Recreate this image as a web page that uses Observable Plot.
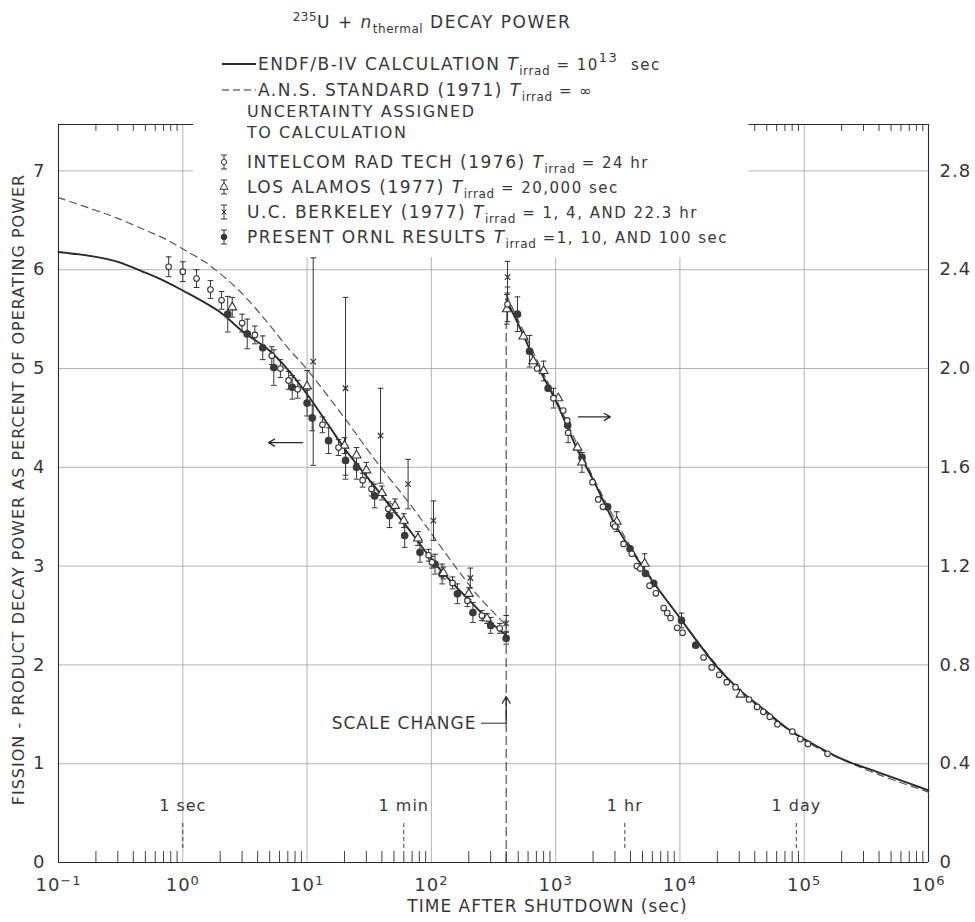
<!DOCTYPE html>
<html><head><meta charset="utf-8">
<script src="https://cdn.jsdelivr.net/npm/d3@7"></script>
<script src="https://cdn.jsdelivr.net/npm/@observablehq/plot@0.6"></script>
<style>
html,body{margin:0;padding:0;background:#fff;}
#chart svg{display:block;}
</style></head><body><div id="chart"></div>
<script>
// ---------- axes / labels ----------
const decadeTicks = [1e-1, 1e0, 1e1, 1e2, 1e3, 1e4, 1e5, 1e6];
const decadeExponents = ["−1", "0", "1", "2", "3", "4", "5", "6"];
const leftTicks = [0, 1, 2, 3, 4, 5, 6, 7];
const rightTickLabels = ["0", "0.4", "0.8", "1.2", "1.6", "2.0", "2.4", "2.8"];
const timeMarks = [1, 60, 3600, 86400];
const timeMarkLabels = ["1 sec", "1 min", "1 hr", "1 day"];
const yTitle = "FISSION - PRODUCT DECAY POWER AS PERCENT OF OPERATING POWER";
const xTitle = "TIME AFTER SHUTDOWN (sec)";
const scaleChangeTime = 400;      // sec
const rightScaleFactor = 0.4;     // right-axis percent per left-axis unit
const legendLabels = ["INTELCOM RAD TECH (1976)", "LOS ALAMOS (1977)", "U.C. BERKELEY (1977)", "PRESENT ORNL RESULTS"];
const legendTirrad = ["= 24 hr", "= 20,000 sec", "= 1, 4, AND 22.3 hr", "=1, 10, AND 100 sec"];

// ---------- curves: [time (s), decay power (%)] ----------
const endfLeft = [[0.1,6.18],[0.2,6.13],[0.3,6.08],[0.5,5.97],[0.7,5.89],[1,5.79],[2,5.57],[3,5.38],[5,5.18],[7,4.99],[10,4.74],[15,4.42],[20,4.19],[30,3.91],[50,3.56],[70,3.33],[100,3.07],[150,2.82],[200,2.66],[300,2.43],[400,2.30]];
const endfRight = [[400,2.28],[500,2.18],[700,2.02],[1000,1.87],[1500,1.67],[2000,1.55],[3000,1.37],[4000,1.27],[6000,1.14],[10000,0.99],[15000,0.87],[20000,0.79],[30000,0.70],[50000,0.61],[70000,0.55],[100000,0.50],[200000,0.42],[400000,0.364],[700000,0.32],[1000000,0.292]];
const ansLeft = [[0.1,6.73],[0.2,6.60],[0.3,6.52],[0.5,6.40],[0.7,6.32],[1,6.21],[1.5,6.08],[2,5.96],[3,5.76],[5,5.44],[7,5.21],[10,4.99],[20,4.50],[35,4.08],[70,3.60],[125,3.16],[230,2.72],[400,2.40]];
const ansRight = [[400,2.30],[700,2.04],[1000,1.88],[2000,1.56],[4000,1.28],[10000,0.99],[30000,0.70],[100000,0.495],[300000,0.38],[1000000,0.285]];

// ---------- measurements: [time (s), decay power (%), uncertainty (%)] ----------
const intelcomLeft = [[0.77,6.03,0.10],[1.0,5.98,0.10],[1.29,5.91,0.09],[1.67,5.80,0.09],[2.05,5.69,0.09],[3.0,5.46,0.09],[3.8,5.34,0.09],[5.2,5.13,0.09],[6.1,5.00,0.09],[7.1,4.88,0.09],[8.4,4.79,0.09],[13.3,4.43,0.08],[17.9,4.20,0.08],[28,3.87,0.07],[33,3.78,0.07],[45,3.58,0.07],[95,3.11,0.06],[101,3.04,0.06],[148,2.83,0.06],[195,2.65,0.06],[255,2.50,0.05],[355,2.37,0.05]];
const intelcomRight = [[410,2.26,0.07],[710,2.00,0],[960,1.88,0.04],[1150,1.83,0],[1240,1.79,0],[1260,1.74,0.04],[1980,1.54,0],[2200,1.47,0],[2400,1.44,0],[2900,1.37,0],[3000,1.36,0],[3520,1.29,0],[4100,1.25,0],[4500,1.20,0],[4800,1.19,0],[5700,1.12,0],[6400,1.09,0],[7400,1.03,0],[7900,1.01,0],[8400,0.99,0],[9500,0.95,0],[10500,0.93,0],[15500,0.83,0],[18000,0.79,0],[20700,0.76,0],[23800,0.73,0],[28000,0.71,0],[36000,0.66,0],[41800,0.63,0],[46800,0.61,0],[52800,0.59,0],[60800,0.56,0],[80300,0.53,0],[93000,0.50,0],[107000,0.48,0],[154000,0.44,0]];
const losAlamosLeft = [[2.5,5.62,0.10],[10,4.82,0.16],[20,4.22,0.08],[25,4.12,0.08],[30,3.97,0.08],[40,3.74,0.07],[51,3.61,0.07],[60,3.46,0.07],[78,3.28,0.07],[125,2.93,0.06],[200,2.72,0.06],[280,2.47,0.05]];
const losAlamosRight = [[405,2.24,0.06],[550,2.13,0],[660,2.03,0],[800,1.99,0.04],[1050,1.88,0],[1500,1.68,0],[1630,1.62,0.04],[3100,1.38,0.04],[5200,1.21,0.04],[30800,0.68,0]];
const berkeleyLeft = [[11.2,5.07,1.05],[20.4,4.80,0.92],[39,4.32,0.48],[65,3.83,0.25],[104,3.46,0.20],[206,2.88,0.10],[400,2.42,0.08]];
const berkeleyRight = [[410,2.37,0.064]];
const ornlLeft = [[2.3,5.55,0.18],[3.3,5.35,0.15],[4.4,5.21,0.12],[5.4,5.01,0.18],[7.6,4.81,0.12],[10,4.65,0.13],[11,4.50,0.13],[14.9,4.27,0.13],[20.4,4.07,0.15],[25,4.00,0.12],[35,3.71,0.12],[46,3.51,0.12],[61,3.31,0.12],[81,3.14,0.10],[107,3.02,0.10],[122,2.92,0.10],[162,2.72,0.10],[216,2.53,0.10],[300,2.40,0.08],[400,2.27,0.06]];
const ornlRight = [[493,2.22,0.07],[617,2.07,0.064],[870,1.92,0],[1250,1.77,0],[1630,1.64,0],[2620,1.44,0],[3970,1.27,0],[5300,1.17,0],[6150,1.13,0],[10300,0.98,0.03],[13400,0.88,0]];

// ---------- layout / style ----------
const W = 975, H = 922;
const M = {top: 124, right: 47, bottom: 60, left: 58};
const plotH = H - M.top - M.bottom;
const yTop = 7.47;
const legendBoxX = [1.22, 3.6e4];
const legendBoxY = 6.12;
const FONT = "DejaVu Sans";
const TEXT = "#383838";
const INK = "#2a2a2a";
const GRID = "#a9a9a9";

// plotted value in left-axis units
const toY = (P, side) => side === "R" ? P / rightScaleFactor : P;
const curveRows = (arr, side) => arr.map(([t, P]) => ({t, y: toY(P, side), side}));
const pointRows = (arr, side) => arr.map(([t, P, e]) => ({t, y: toY(P, side), ey: toY(e || 0, side), side}));

const endfRows = [...curveRows(endfLeft, "L"), ...curveRows(endfRight, "R")];
const ansRows = [...curveRows(ansLeft, "L"), ...curveRows(ansRight, "R")];
const intelcom = [...pointRows(intelcomLeft, "L"), ...pointRows(intelcomRight, "R")];
const losAlamos = [...pointRows(losAlamosLeft, "L"), ...pointRows(losAlamosRight, "R")];
const berkeley = [...pointRows(berkeleyLeft, "L"), ...pointRows(berkeleyRight, "R")];
const ornl = [...pointRows(ornlLeft, "L"), ...pointRows(ornlRight, "R")];
const allPoints = [...intelcom, ...losAlamos, ...berkeley, ...ornl].filter(d => d.ey > 0);

const minorTicks = [];
for (let k = -1; k < 6; ++k) for (let m = 2; m <= 9; ++m) minorTicks.push(m * Math.pow(10, k));

const capSymbol = {draw(ctx, size) { const w = Math.sqrt(size) / 2; ctx.moveTo(-w, 0); ctx.lineTo(w, 0); }};

const chart = Plot.plot({
  width: W, height: H,
  marginTop: M.top, marginRight: M.right, marginBottom: M.bottom, marginLeft: M.left,
  style: {fontFamily: FONT, fontSize: "17px", color: TEXT, background: "white", letterSpacing: "1px"},
  x: {type: "log", domain: [decadeTicks[0], decadeTicks[decadeTicks.length - 1]]},
  y: {domain: [0, yTop]},
  marks: [
    // grid
    Plot.ruleX(decadeTicks.slice(1, -1), {stroke: GRID, strokeWidth: 0.9}),
    Plot.ruleY(leftTicks.slice(1), {stroke: GRID, strokeWidth: 0.9}),
    Plot.rect([0], {x1: legendBoxX[0], x2: legendBoxX[1], y1: legendBoxY, y2: yTop, fill: "white"}),
    // frame
    Plot.ruleX([decadeTicks[0], decadeTicks[7]], {stroke: INK, strokeWidth: 1.1}),
    Plot.ruleY([0], {stroke: INK, strokeWidth: 1.1}),
    Plot.ruleY([yTop], {x1: decadeTicks[0], x2: legendBoxX[0], stroke: INK, strokeWidth: 1}),
    Plot.ruleY([yTop], {x1: legendBoxX[1], x2: decadeTicks[7], stroke: INK, strokeWidth: 1}),
    Plot.tickX(minorTicks, {insetTop: plotH - 11, stroke: INK, strokeWidth: 0.9}),
    Plot.tickX(minorTicks.filter(t => t < legendBoxX[0] || t > legendBoxX[1]), {insetBottom: plotH - 7, stroke: INK, strokeWidth: 0.9}),
    // axes
    Plot.axisX(decadeTicks, {tickSize: 0, tickPadding: 16, fontSize: 18, label: null, tickFormat: d => decadeExponents[decadeTicks.indexOf(d)]}),
    Plot.axisY(leftTicks, {anchor: "left", tickSize: 0, tickPadding: 13, fontSize: 18, label: null, tickFormat: d => String(d)}),
    Plot.axisY(leftTicks, {anchor: "right", tickSize: 0, tickPadding: 11, fontSize: 18, label: null, tickFormat: d => rightTickLabels[leftTicks.indexOf(d)]}),
    Plot.text([yTitle], {frameAnchor: "left", textAnchor: "middle", rotate: -90, dx: -40, dy: -4, fontSize: 16, letterSpacing: "0.6px"}),
    Plot.text([xTitle], {frameAnchor: "bottom", dx: 54, dy: 49, fontSize: 17}),
    // time markers
    Plot.tickX(timeMarks, {insetTop: plotH - 39, insetBottom: 12, stroke: INK, strokeWidth: 0.9, strokeDasharray: "4,3"}),
    Plot.text(timeMarkLabels, {x: (d, i) => timeMarks[i], frameAnchor: "bottom", dy: -52, fontSize: 16}),
    // scale change
    Plot.ruleX([scaleChangeTime], {y1: 0, y2: 5.45, stroke: INK, strokeWidth: 1, strokeDasharray: "9,4"}),
    Plot.ruleY([1.41], {x1: 253, x2: scaleChangeTime, stroke: INK, strokeWidth: 1}),
    Plot.arrow([0], {x1: scaleChangeTime, x2: scaleChangeTime, y1: 1.41, y2: 1.68, stroke: INK, strokeWidth: 1.3, headLength: 9}),
    Plot.text(["SCALE CHANGE"], {x: 253, y: 1.41, textAnchor: "end", dx: -5, fontSize: 17, letterSpacing: "1.5px"}),
    // axis pointers
    Plot.arrow([0], {x1: 9.2, x2: 4.9, y1: 4.25, y2: 4.25, stroke: INK, strokeWidth: 1.3, headLength: 8}),
    Plot.arrow([0], {x1: 1524, x2: 2754, y1: 4.51, y2: 4.51, stroke: INK, strokeWidth: 1.3, headLength: 8}),
    // curves
    Plot.line(ansRows, {x: "t", y: "y", z: "side", stroke: "#555", strokeWidth: 1.2, strokeDasharray: "7,5", curve: "catmull-rom"}),
    Plot.line(endfRows, {x: "t", y: "y", z: "side", stroke: INK, strokeWidth: 1.9, curve: "catmull-rom"}),
    // error bars
    Plot.ruleX(allPoints, {x: "t", y1: d => d.y - d.ey, y2: d => d.y + d.ey, stroke: "#333", strokeWidth: 1}),
    Plot.dot(allPoints, {x: "t", y: d => d.y - d.ey, symbol: capSymbol, r: 3.2, stroke: "#333", strokeWidth: 1}),
    Plot.dot(allPoints, {x: "t", y: d => d.y + d.ey, symbol: capSymbol, r: 3.2, stroke: "#333", strokeWidth: 1}),
    // markers
    Plot.dot(berkeley, {x: "t", y: "y", symbol: "times", r: 2.6, stroke: "#333", strokeWidth: 1.2}),
    Plot.dot(ornl, {x: "t", y: "y", r: 3.1, fill: "#3a3a3a", stroke: "#3a3a3a"}),
    Plot.dot(losAlamos, {x: "t", y: "y", symbol: "triangle", r: 3.3, fill: "white", stroke: "#333", strokeWidth: 1.1}),
    Plot.dot(intelcom, {x: "t", y: "y", r: 2.8, fill: "white", stroke: "#333", strokeWidth: 1.1})
  ]
});

// superscript exponents on x tick labels
d3.select(chart).selectAll('g[aria-label="x-axis tick label"] text').each(function() {
  const e = this.textContent;
  const t = d3.select(this);
  t.text("10");
  t.append("tspan").attr("dy", "-0.5em").attr("font-size", 13).text(e);
});

// ---------- title & legend ----------
const svg = d3.select(chart);
const lg = svg.append("g").attr("font-family", FONT).attr("fill", TEXT).attr("font-size", 17)
  .attr("letter-spacing", "1.5px").attr("text-anchor", "start");
function tirrad(text, rest) {
  text.append("tspan").attr("font-style", "italic").text("T");
  text.append("tspan").attr("dy", 5).attr("font-size", 12).attr("letter-spacing", "0.6px").text("irrad");
  text.append("tspan").attr("dy", -5).attr("font-size", 15).text(" " + rest);
}
// title
{
  const t = lg.append("text").attr("x", 432).attr("y", 28).attr("text-anchor", "middle");
  t.append("tspan").attr("dy", -7).attr("font-size", 12).attr("letter-spacing", "0.5px").text("235");
  t.append("tspan").attr("dy", 7).text("U + ");
  t.append("tspan").attr("font-style", "italic").text("n");
  t.append("tspan").attr("dy", 5).attr("font-size", 12).attr("letter-spacing", "0.5px").text("thermal");
  t.append("tspan").attr("dy", -5).text(" DECAY POWER");
}
// ENDF
lg.append("line").attr("x1", 222).attr("x2", 256).attr("y1", 64).attr("y2", 64).attr("stroke", INK).attr("stroke-width", 1.8);
{
  const t = lg.append("text").attr("x", 258).attr("y", 70);
  t.append("tspan").text("ENDF/B-IV CALCULATION ");
  tirrad(t, "= 10");
  t.append("tspan").attr("dy", -8).attr("font-size", 13).text("13");
  t.append("tspan").attr("dy", 8).attr("font-size", 15).text("  sec");
}
// ANS
lg.append("line").attr("x1", 222).attr("x2", 256).attr("y1", 90).attr("y2", 90).attr("stroke", INK).attr("stroke-width", 1.2).attr("stroke-dasharray", "7,4");
{
  const t = lg.append("text").attr("x", 258).attr("y", 96);
  t.append("tspan").text("A.N.S. STANDARD (1971) ");
  tirrad(t, "= ∞");
}
lg.append("text").attr("x", 247).attr("y", 117).attr("font-size", 16).text("UNCERTAINTY ASSIGNED");
lg.append("text").attr("x", 247).attr("y", 138).attr("font-size", 16).text("TO CALCULATION");
const rowY = [162, 187, 212, 237];
legendLabels.forEach((label, i) => {
  const cy = rowY[i], cx = 224;
  const s = lg.append("g").attr("stroke", "#333").attr("fill", "none").attr("stroke-width", 1);
  s.append("line").attr("x1", cx).attr("x2", cx).attr("y1", cy - 7).attr("y2", cy + 7);
  s.append("line").attr("x1", cx - 3).attr("x2", cx + 3).attr("y1", cy - 7).attr("y2", cy - 7);
  s.append("line").attr("x1", cx - 3).attr("x2", cx + 3).attr("y1", cy + 7).attr("y2", cy + 7);
  if (i === 0) s.append("circle").attr("cx", cx).attr("cy", cy).attr("r", 2.6).attr("fill", "white");
  if (i === 1) s.append("path").attr("d", d3.symbol(d3.symbolTriangle, 28)()).attr("transform", `translate(${cx},${cy})`).attr("fill", "white");
  if (i === 2) s.append("path").attr("d", d3.symbol(d3.symbolTimes, 18)()).attr("transform", `translate(${cx},${cy})`);
  if (i === 3) s.append("circle").attr("cx", cx).attr("cy", cy).attr("r", 2.8).attr("fill", "#3a3a3a");
  const t = lg.append("text").attr("x", 247).attr("y", cy + 6);
  t.append("tspan").text(label + " ");
  tirrad(t, legendTirrad[i]);
});

document.getElementById("chart").appendChild(chart);
</script>
</body></html>
